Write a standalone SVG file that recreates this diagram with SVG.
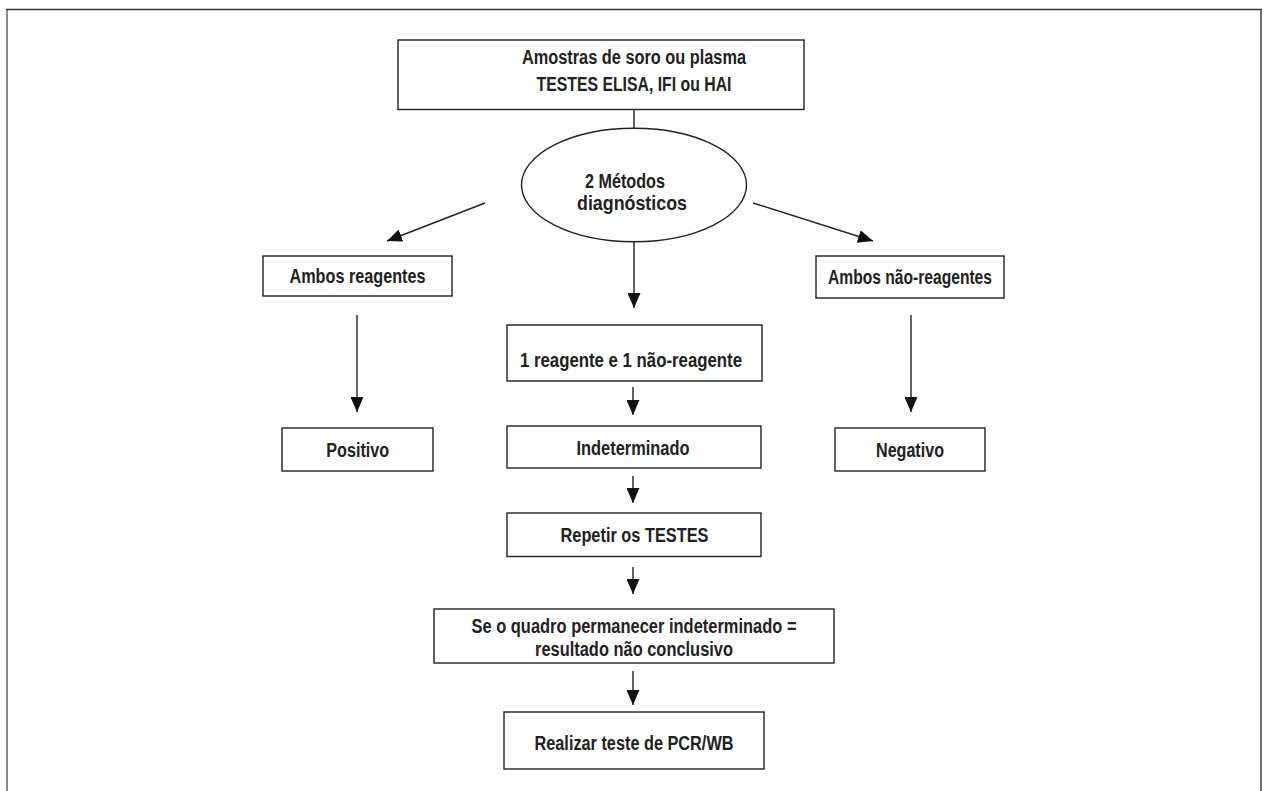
<svg xmlns="http://www.w3.org/2000/svg" width="1264" height="791" viewBox="0 0 1264 791">
<defs>
<style>
.box{fill:#fff;stroke:#222;stroke-width:1.4}
.t{font-family:"Liberation Sans Narrow","Liberation Sans",Arial,sans-serif;font-weight:bold;font-size:19.5px;fill:#222;text-anchor:middle}
.c{fill:none;stroke:#222;stroke-width:1.4}
</style>
<marker id="ah" markerUnits="userSpaceOnUse" markerWidth="16" markerHeight="13" refX="15" refY="6.5" orient="auto">
<path d="M0,0 L15,6.5 L0,13 z" fill="#111"/>
</marker>
</defs>
<rect width="1264" height="791" fill="#fff"/>
<g id="frame">
<line x1="7" y1="10" x2="7" y2="791" stroke="#8a8a8a" stroke-width="2"/>
<line x1="6" y1="9.5" x2="1262" y2="9.5" stroke="#333" stroke-width="1.5"/>
<line x1="1261" y1="9" x2="1261" y2="791" stroke="#444" stroke-width="1.5"/>
</g>
<g id="connectors">
<line class="c" x1="634" y1="110" x2="634" y2="128"/>
<line class="c" x1="485" y1="203" x2="387" y2="241" marker-end="url(#ah)"/>
<line class="c" x1="753" y1="203" x2="873" y2="241" marker-end="url(#ah)"/>
<line class="c" x1="634" y1="242" x2="634" y2="308" marker-end="url(#ah)"/>
<line class="c" x1="357" y1="315" x2="357" y2="412" marker-end="url(#ah)"/>
<line class="c" x1="911" y1="315" x2="911" y2="412" marker-end="url(#ah)"/>
<line class="c" x1="633" y1="387" x2="633" y2="415" marker-end="url(#ah)"/>
<line class="c" x1="633" y1="476" x2="633" y2="503" marker-end="url(#ah)"/>
<line class="c" x1="633" y1="567" x2="633" y2="594" marker-end="url(#ah)"/>
<line class="c" x1="633" y1="671" x2="633" y2="705" marker-end="url(#ah)"/>
</g>
<g id="amostras">
<rect class="box" x="398" y="40" width="406" height="69.5"/>
<text class="t" x="634" y="64" textLength="224" lengthAdjust="spacingAndGlyphs">Amostras de soro ou plasma</text>
<text class="t" x="634" y="91" textLength="195" lengthAdjust="spacingAndGlyphs">TESTES ELISA, IFI ou HAI</text>
</g>
<g id="metodos">
<ellipse class="box" cx="634" cy="185" rx="112.5" ry="56.7"/>
<text class="t" x="625" y="188" textLength="80" lengthAdjust="spacingAndGlyphs">2 Métodos</text>
<text class="t" x="632" y="210" textLength="110" lengthAdjust="spacingAndGlyphs">diagnósticos</text>
</g>
<g id="ambos-reagentes">
<rect class="box" x="263" y="256" width="189" height="40"/>
<text class="t" x="357.5" y="283" textLength="136" lengthAdjust="spacingAndGlyphs">Ambos reagentes</text>
</g>
<g id="ambos-nao-reagentes">
<rect class="box" x="816" y="256" width="188" height="42"/>
<text class="t" x="910" y="284" textLength="164" lengthAdjust="spacingAndGlyphs">Ambos não-reagentes</text>
</g>
<g id="um-reagente">
<rect class="box" x="507" y="325" width="255" height="56"/>
<text class="t" x="631" y="367" textLength="222" lengthAdjust="spacingAndGlyphs">1 reagente e 1 não-reagente</text>
</g>
<g id="positivo">
<rect class="box" x="282" y="428" width="151" height="43"/>
<text class="t" x="357.7" y="457" textLength="63" lengthAdjust="spacingAndGlyphs">Positivo</text>
</g>
<g id="negativo">
<rect class="box" x="835" y="428" width="150" height="43"/>
<text class="t" x="910" y="457" textLength="68" lengthAdjust="spacingAndGlyphs">Negativo</text>
</g>
<g id="indeterminado">
<rect class="box" x="507" y="426" width="254" height="42"/>
<text class="t" x="633" y="454.5" textLength="113" lengthAdjust="spacingAndGlyphs">Indeterminado</text>
</g>
<g id="repetir">
<rect class="box" x="507" y="513" width="254" height="43.5"/>
<text class="t" x="634.5" y="542" textLength="148" lengthAdjust="spacingAndGlyphs">Repetir os TESTES</text>
</g>
<g id="se-o-quadro">
<rect class="box" x="434" y="609" width="400" height="54"/>
<text class="t" x="634" y="633" textLength="325" lengthAdjust="spacingAndGlyphs">Se o quadro permanecer indeterminado =</text>
<text class="t" x="634" y="656" textLength="198" lengthAdjust="spacingAndGlyphs">resultado não conclusivo</text>
</g>
<g id="realizar">
<rect class="box" x="504" y="712" width="260" height="57"/>
<text class="t" x="634" y="750" textLength="199" lengthAdjust="spacingAndGlyphs">Realizar teste de PCR/WB</text>
</g>
</svg>
